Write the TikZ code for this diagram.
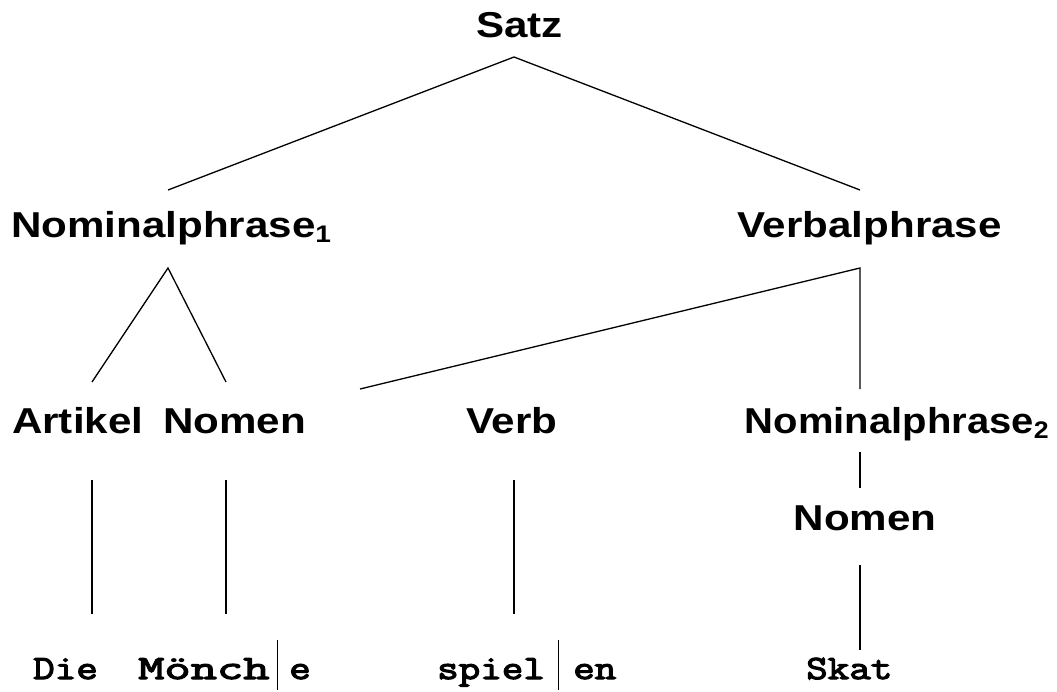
\documentclass[tikz,border=0pt]{standalone}
\usepackage{fontspec}
\newfontfamily\labfont[FakeStretch=1.17]{Liberation Sans}
\newfontfamily\wrdfont[FakeStretch=1.23,FakeBold=3.5]{Latin Modern Mono}
\newcommand\subsc[1]{\raisebox{-5pt}{\fontsize{24}{24}\selectfont #1}}
\tikzset{
  lbl/.style={font=\labfont\bfseries\fontsize{36}{40}\selectfont, inner sep=0pt},
  wrd/.style={font=\wrdfont\fontsize{34}{36}\selectfont, inner sep=0pt},
  edge/.style={line width=1.3pt},
  barnode/.style={inner sep=0pt}
}
\begin{document}
\begin{tikzpicture}[x=1pt,y=-1pt]
\useasboundingbox (0,0) rectangle (1057,691);
% labels
\node[lbl, anchor=base west] (satz) at (476,37) {Satz};
\node[lbl, anchor=base west] (np1) at (11,237) {Nominalphrase\subsc{1}};
\node[lbl, anchor=base west] (vp) at (737,237) {Verbalphrase};
\node[lbl, anchor=base west] (art) at (12,433) {Artikel};
\node[lbl, anchor=base west] (nom1) at (163,433) {Nomen};
\node[lbl, anchor=base west] (verb) at (466,433) {Verb};
\node[lbl, anchor=base east] (np2) at (1049,433) {\scalebox{0.95}[1]{Nominalphrase\subsc{2}}};
\node[lbl, anchor=base] (nom2) at (865,530) {Nomen};
% words
\node[wrd, anchor=base west] (die) at (33,679) {Die};
\node[wrd, anchor=base west] (moench) at (138,679) {\scalebox{1.22}[1]{Mönch}};
\node[barnode, anchor=base west] (bar1) at (276.3,679) {\rule[-11pt]{1.4pt}{50pt}};
\node[wrd, anchor=base west] (e) at (289,679) {e};
\node[wrd, anchor=base west] (spiel) at (437,679) {spiel};
\node[barnode, anchor=base west] (bar2) at (557.3,679) {\rule[-11pt]{1.4pt}{50pt}};
\node[wrd, anchor=base west] (en) at (573,679) {en};
\node[wrd, anchor=base west] (skat) at (806,679) {Skat};
% connector ends
\coordinate (satz-s) at (514,57);
\coordinate (np1-n) at (168,190);
\coordinate (vp-n) at (860,190);
\coordinate (np1-s) at (168,268);
\coordinate (art-n) at (92,382);
\coordinate (nom1-n) at (226,382);
\coordinate (vp-s) at (860,268);
\coordinate (verb-n) at (360,389);
\coordinate (np2-n) at (860,389);
\coordinate (art-s) at (92,480);
\coordinate (die-n) at (92,614);
\coordinate (nom1-s) at (226,480);
\coordinate (moench-n) at (226,614);
\coordinate (verb-s) at (514,480);
\coordinate (spiel-n) at (514,614);
\coordinate (np2-s) at (860,452);
\coordinate (nom2-n) at (860,488);
\coordinate (nom2-s) at (860,565);
\coordinate (skat-n) at (860,650);
% connectors
\draw[edge] (np1-n) -- (satz-s) -- (vp-n);
\draw[edge] (art-n) -- (np1-s) -- (nom1-n);
\draw[edge] (verb-n) -- (vp-s) -- (np2-n);
\draw[edge] (art-s) -- (die-n);
\draw[edge] (nom1-s) -- (moench-n);
\draw[edge] (verb-s) -- (spiel-n);
\draw[edge] (np2-s) -- (nom2-n);
\draw[edge] (nom2-s) -- (skat-n);
\end{tikzpicture}
\end{document}
